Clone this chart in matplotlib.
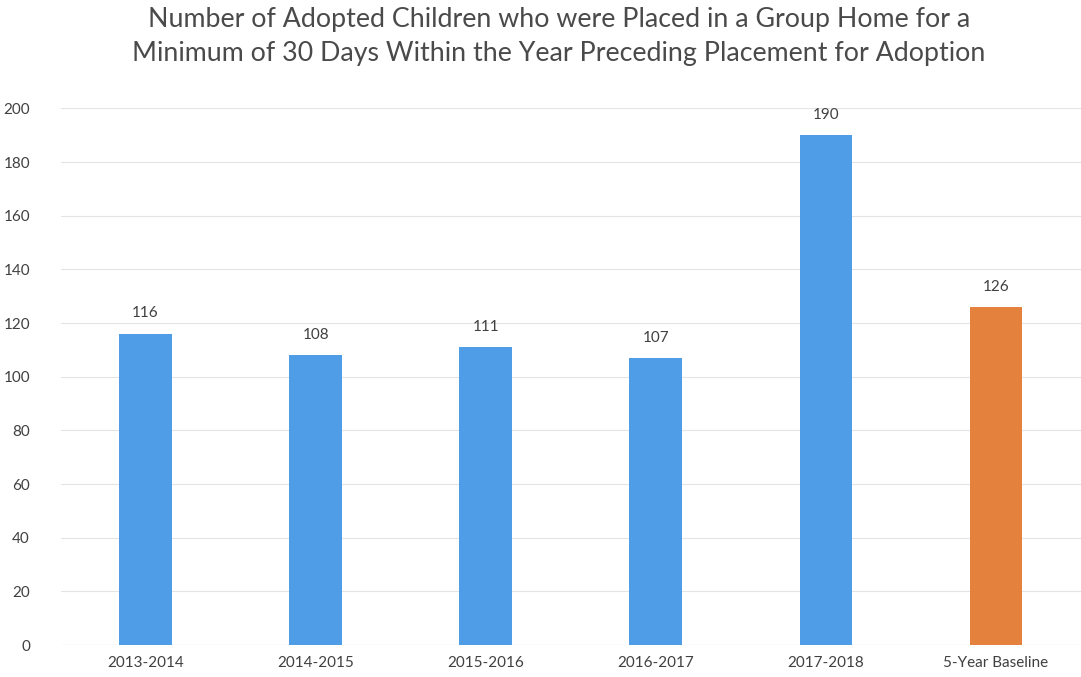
import matplotlib.pyplot as plt

categories = ["2013-2014", "2014-2015", "2015-2016", "2016-2017", "2017-2018", "5-Year Baseline"]
values = [116, 108, 111, 107, 190, 126]
barColors = ["#4f9de6", "#4f9de6", "#4f9de6", "#4f9de6", "#4f9de6", "#e4813c"]
yTicks = [0, 20, 40, 60, 80, 100, 120, 140, 160, 180, 200]

plt.rcParams['font.family'] = ['Lato', 'DejaVu Sans']
textColor = "#404040"

fig = plt.figure(figsize=(10.81, 6.77), dpi=100)
ax = fig.add_axes([0.056, 0.047, 0.944, 0.793])

positions = range(len(categories))
bars = ax.bar(positions, values, width=0.31, color=barColors, zorder=2)

for bar, value in zip(bars, values):
    ax.text(bar.get_x() + bar.get_width() / 2, value + 5, str(value),
            ha="center", va="bottom", fontsize=11, color=textColor)

ax.set_xlim(-0.5, len(categories) - 0.5)
ax.set_ylim(0, 200)
ax.set_yticks(yTicks)
ax.set_xticks(list(positions))
ax.set_xticklabels(categories)
ax.tick_params(axis="both", length=0, labelsize=11, colors=textColor)
ax.tick_params(axis="y", pad=22)
ax.tick_params(axis="x", pad=8)
ax.yaxis.grid(True, color="#e4e4e4", linewidth=0.8, zorder=0)
ax.set_axisbelow(True)
for spine in ax.spines.values():
    spine.set_visible(False)
ax.axhline(0, color="#d9d9d9", linewidth=0.8, zorder=1)

fig.suptitle("Number of Adopted Children who were Placed in a Group Home for a\n"
             "Minimum of 30 Days Within the Year Preceding Placement for Adoption",
             x=0.517, y=0.99, fontsize=19.3, color="#4a4a4a", linespacing=1.45)

plt.savefig("out.png", dpi=100)
plt.close()
